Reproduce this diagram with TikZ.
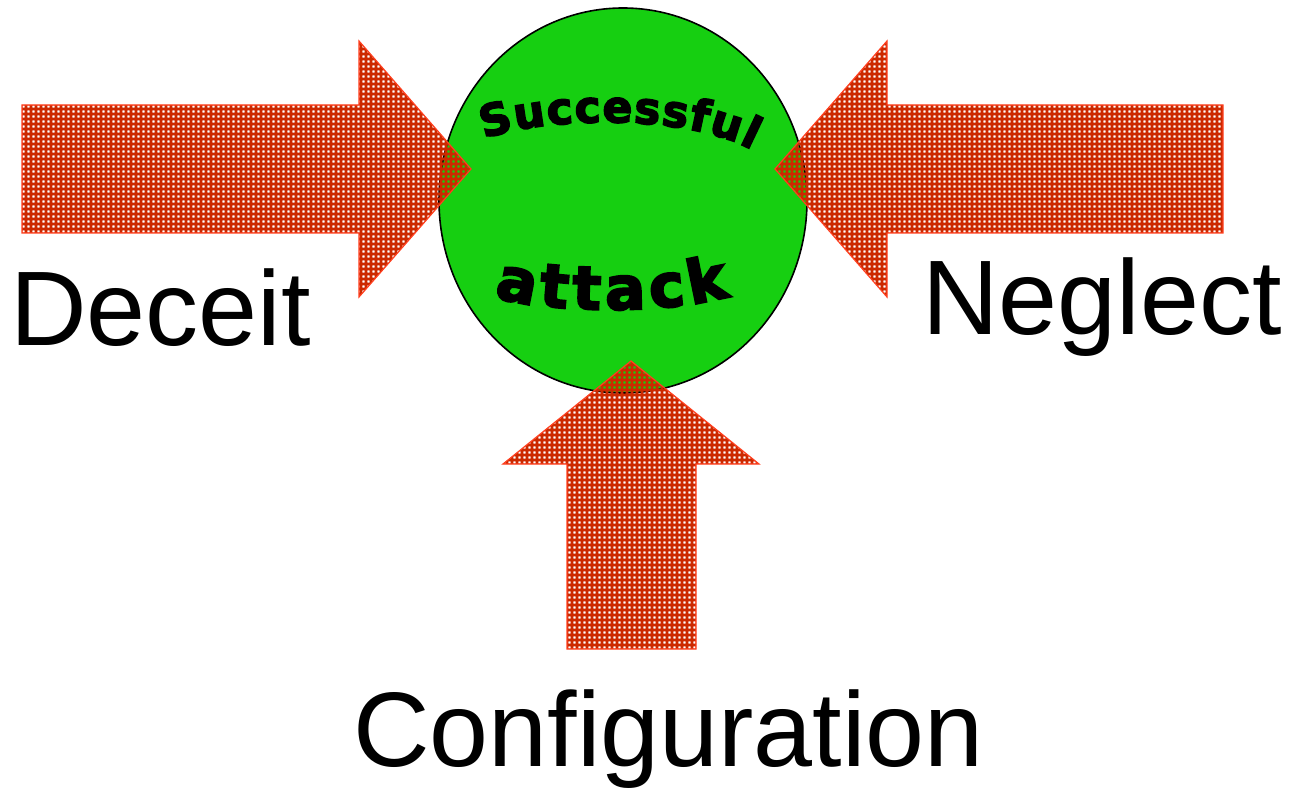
\documentclass[tikz,border=0pt]{standalone}
\usepackage{fontspec}
\usetikzlibrary{patterns.meta,decorations.text,shapes.geometric}

\newfontfamily\labelfont{Liberation Sans}
\newfontfamily\wordart[FakeBold=3.5]{DejaVu Sans}

\definecolor{discgreen}{RGB}{22,207,17}
\definecolor{meshred}{RGB}{204,41,0}
\definecolor{rimred}{RGB}{255,64,32}

% square mesh: solid tile with a see-through hole in the middle
\tikzdeclarepattern{
  name=mesh,
  type=uncolored,
  bottom left={(0pt,0pt)},
  top right={(2.7pt,2.7pt)},
  tile size={(2.7pt,2.7pt)},
  code={
    \fill[even odd rule] (0pt,0pt) rectangle (2.7pt,2.7pt)
      (0.7pt,0.7pt) rectangle (2pt,2pt);
  }
}

\tikzset{
  blockarrow/.style={draw=rimred, line width=0.6pt, pattern=mesh,
    pattern color=meshred, line join=miter},
  sidelabel/.style={font=\labelfont\fontsize{53}{60}\selectfont,
    inner sep=0pt, anchor=base west},
}

\begin{document}
\begin{tikzpicture}[x=0.5pt,y=-0.5pt]
\useasboundingbox[fill=white] (0,0) rectangle (1293,790);

% the target
\node[ellipse, draw=black, line width=0.8pt, fill=discgreen,
  minimum width=184pt, minimum height=192.5pt, inner sep=0pt] (disc) at (623,200.5) {};

% curved lettering inside the disc
\path[decorate, decoration={text along path, text align=fit to path,
  text format delimiters={|}{|},
  text={|\wordart\bfseries\fontsize{22}{22}\selectfont|Successful}}]
  (484,139) .. controls (540,118) and (682,112) .. (752,150);
\path[decorate, decoration={text along path, text align=fit to path,
  text format delimiters={|}{|},
  text={|\wordart\bfseries\fontsize{30}{30}\selectfont|attack}}]
  (494,297) .. controls (550,314) and (670,314) .. (730,296);

% three block arrows pushing into the disc
\draw[blockarrow] (22,105) -- (359,105) -- (359,41) -- (471,169)
  -- (359,297) -- (359,233) -- (22,233) -- cycle;
\draw[blockarrow] (1223,105) -- (887,105) -- (887,41) -- (775,169)
  -- (887,297) -- (887,233) -- (1223,233) -- cycle;
\draw[blockarrow] (567,649) -- (567,464) -- (503,464) -- (631,361)
  -- (759,464) -- (696,464) -- (696,649) -- cycle;

% labels
\node[sidelabel] (deceit) at (10,346) {Deceit};
\node[sidelabel] (neglect) at (922,335) {Neglect};
\node[sidelabel] (config) at (353,766) {Configuration};
\end{tikzpicture}
\end{document}
